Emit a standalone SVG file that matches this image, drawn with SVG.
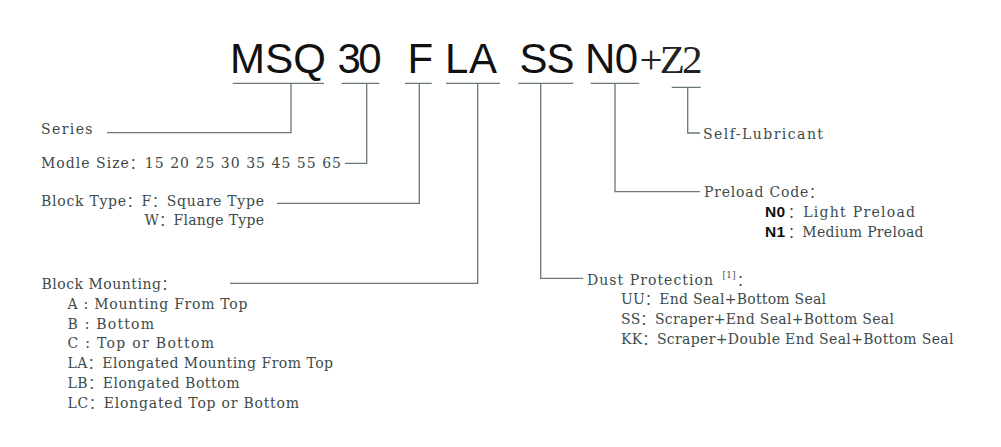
<svg xmlns="http://www.w3.org/2000/svg" width="1001" height="447" viewBox="0 0 1001 447">
<style>
.t{font-family:"DejaVu Serif","Noto Sans CJK SC",serif;font-size:14px;fill:#3c4a4a}
.h{font-family:"Liberation Sans",Arial,sans-serif;font-size:42px;fill:#111}
.hs{font-family:"Liberation Serif","Times New Roman",serif;font-size:41px;fill:#222}
.b{font-family:"Liberation Sans",Arial,sans-serif;font-size:15.5px;font-weight:bold;fill:#111;letter-spacing:0.3px}
.sup{font-size:8.5px}
.c{fill:none;stroke:#6a7878;stroke-width:1.3}
</style>
<rect width="1001" height="447" fill="#fff"/>
<g id="title">
<text class="h" x="230" y="73.3" textLength="96">MSQ</text>
<text class="h" x="337.5" y="73.3" textLength="44">30</text>
<text class="h" x="407.5" y="73.3">F</text>
<text class="h" x="445" y="73.3" textLength="52">LA</text>
<text class="h" x="519.5" y="73.3" textLength="55">SS</text>
<text class="h" x="585" y="73.3" textLength="53">N0</text>
<text class="hs" x="639.5" y="73.3" textLength="63">+Z2</text>
</g>
<g id="connectors">
<path class="c" d="M232.7 83.3H324M341.7 83.3H379.3M405 83.3H431.7M446 83.3H500M518.3 83.3H573.3M590.7 83.3H639.3M671.7 87.3H700.7"/>
<polyline class="c" points="291,83.3 291,132.7 107,132.7"/>
<polyline class="c" points="366.7,83.3 366.7,163.3 345,163.3"/>
<polyline class="c" points="419.3,83.3 419.3,203.3 277,203.3"/>
<polyline class="c" points="477.7,83.3 477.7,283.3 230,283.3"/>
<polyline class="c" points="540.7,83.3 540.7,278.3 583.3,278.3"/>
<polyline class="c" points="615,83.3 615,191.7 700,191.7"/>
<polyline class="c" points="687.7,87.3 687.7,133 700,133"/>
</g>
<g id="series">
<text class="t" x="41" y="133.5" textLength="51.5">Series</text>
</g>
<g id="size">
<text class="t" x="41" y="167.8" textLength="300">Modle Size：15 20 25 30 35 45 55 65</text>
</g>
<g id="blocktype">
<text class="t" x="41" y="206" textLength="223">Block Type：F：Square Type</text>
<text class="t" x="144.5" y="225" textLength="119.5">W：Flange Type</text>
</g>
<g id="mounting">
<text class="t" x="41.5" y="289" textLength="134">Block Mounting：</text>
<text class="t" x="67.5" y="308.6" textLength="180">A : Mounting From Top</text>
<text class="t" x="67.5" y="328.6" textLength="86.5">B : Bottom</text>
<text class="t" x="67.5" y="348.4" textLength="146.5">C : Top or Bottom</text>
<text class="t" x="67.5" y="368.4" textLength="265.5">LA：Elongated Mounting From Top</text>
<text class="t" x="67.5" y="388.4" textLength="172">LB：Elongated Bottom</text>
<text class="t" x="67.5" y="408.4" textLength="231.5">LC：Elongated Top or Bottom</text>
</g>
<g id="lubricant">
<text class="t" x="703" y="139.3" textLength="120">Self-Lubricant</text>
</g>
<g id="preload">
<text class="t" x="704" y="197.3" textLength="119">Preload Code：</text>
<text class="t" x="765" y="216.7"><tspan class="b">N0</tspan><tspan x="788" textLength="127">：Light Preload</tspan></text>
<text class="t" x="765" y="236.7"><tspan class="b">N1</tspan><tspan x="788" textLength="135.5">：Medium Preload</tspan></text>
</g>
<g id="dust">
<text class="t" x="587" y="285"><tspan textLength="126">Dust Protection</tspan><tspan class="sup" x="722.5" y="277.5" textLength="13">[1]</tspan><tspan x="737" y="285">：</tspan></text>
<text class="t" x="621" y="304.3" textLength="205">UU：End Seal+Bottom Seal</text>
<text class="t" x="621" y="324.3" textLength="273">SS：Scraper+End Seal+Bottom Seal</text>
<text class="t" x="621" y="344.3" textLength="332.5">KK：Scraper+Double End Seal+Bottom Seal</text>
</g>
</svg>
